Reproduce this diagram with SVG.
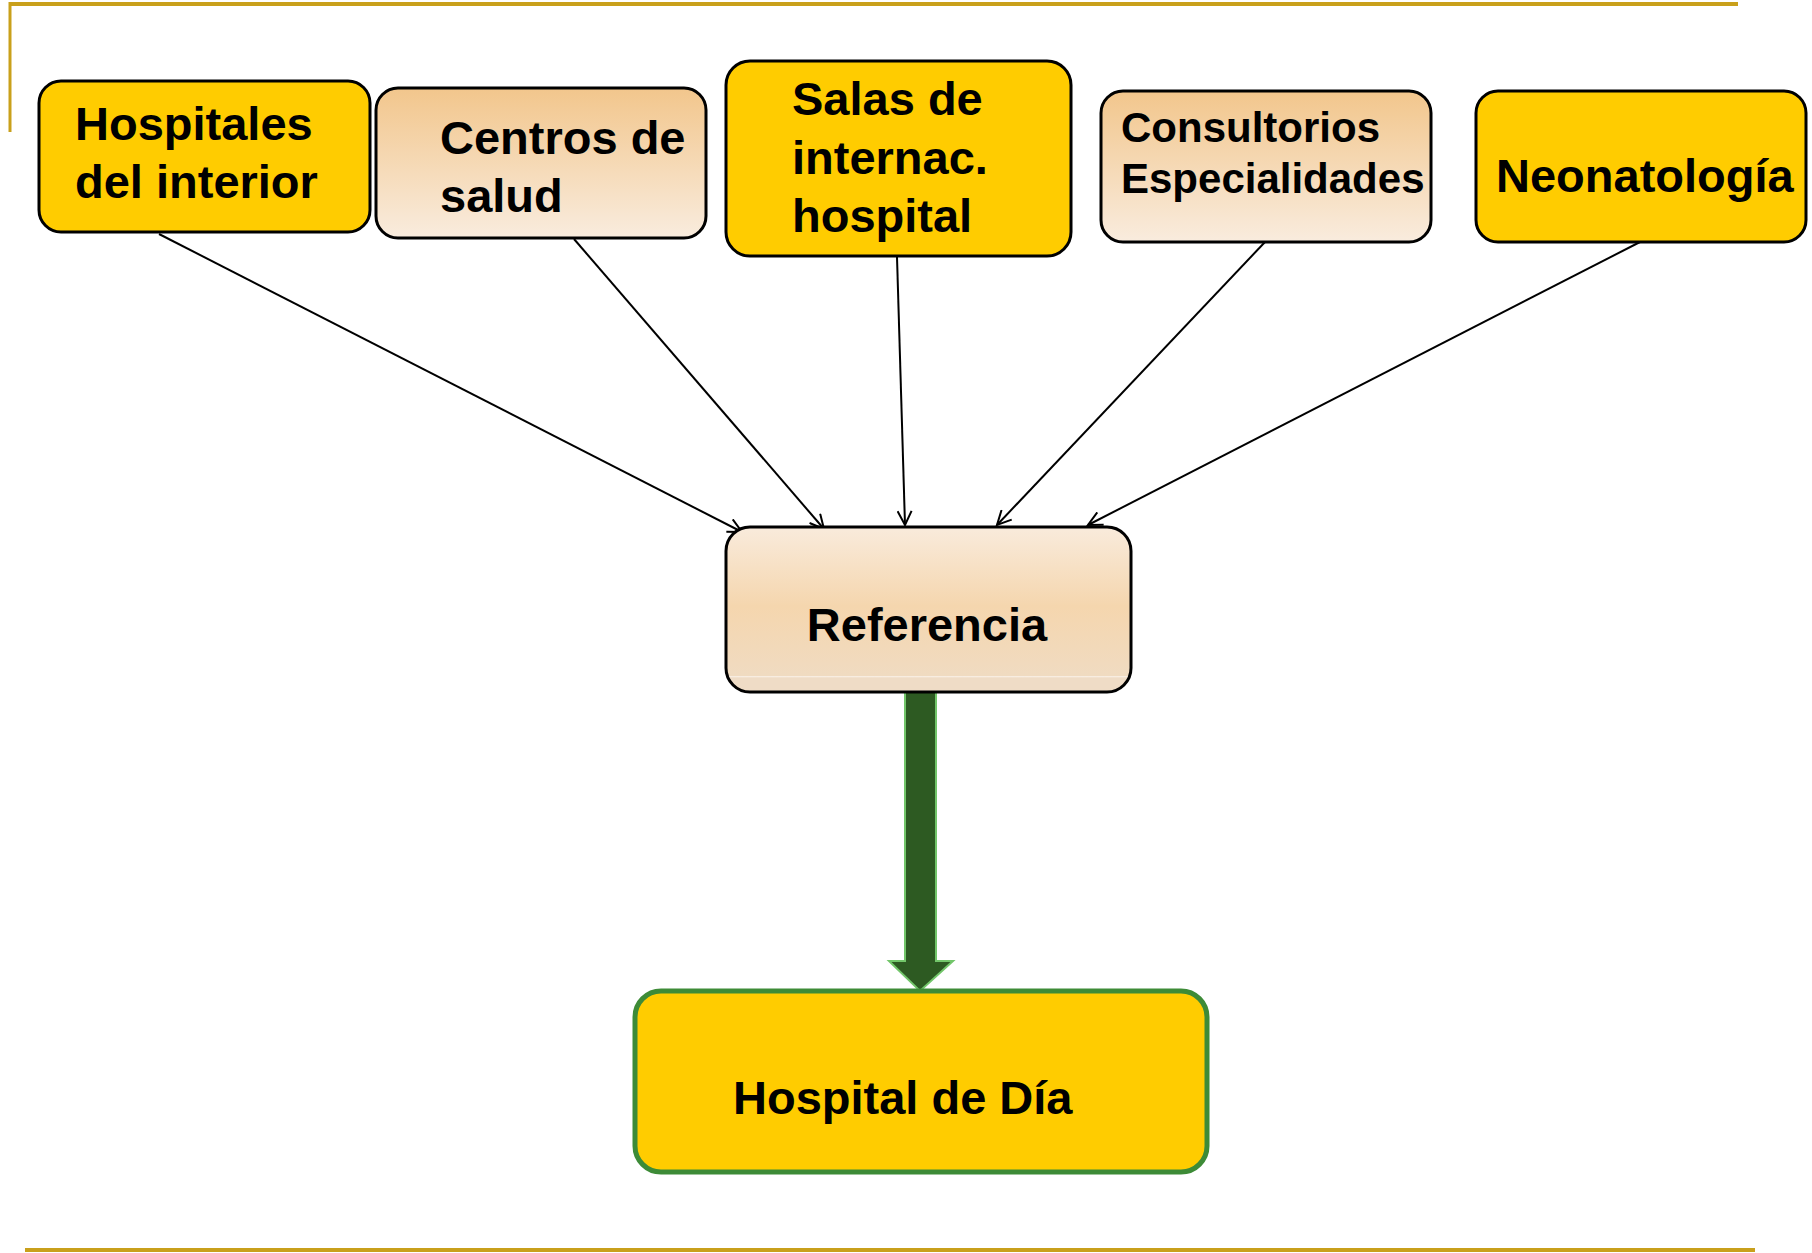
<svg xmlns="http://www.w3.org/2000/svg" width="1812" height="1253" viewBox="0 0 1812 1253">
<style>
.box{stroke:#000;stroke-width:3}
.yel{fill:#ffcc00}
.t{font-family:"Liberation Sans",Arial,sans-serif;font-weight:bold;font-size:47px;fill:#000}
.conn{stroke:#000;stroke-width:2;fill:none}
</style>
<defs>
<linearGradient id="peach" x1="0" y1="0" x2="0" y2="1">
<stop offset="0" stop-color="#f2c68c"/>
<stop offset="1" stop-color="#f9ecde"/>
</linearGradient>
<linearGradient id="ref" x1="0" y1="0" x2="0" y2="1">
<stop offset="0" stop-color="#f9ebdc"/>
<stop offset="0.48" stop-color="#f5d6ae"/>
<stop offset="0.9" stop-color="#f0dbc1"/>
<stop offset="0.905" stop-color="#f9efe4"/>
<stop offset="0.915" stop-color="#efdcc6"/>
<stop offset="1" stop-color="#efdcc6"/>
</linearGradient>
<marker id="arr" markerUnits="userSpaceOnUse" viewBox="0 0 18 16" refX="16" refY="8" markerWidth="18" markerHeight="16" orient="auto">
<path d="M2,1 L16,8 L2,15" fill="none" stroke="#000" stroke-width="2"/>
</marker>
</defs>
<g id="frame">
<line x1="9" y1="4" x2="1738" y2="4" stroke="#c9a01b" stroke-width="4"/>
<line x1="10" y1="2" x2="10" y2="132" stroke="#c9a01b" stroke-width="3"/>
<line x1="25" y1="1250" x2="1755" y2="1250" stroke="#c9a01b" stroke-width="4"/>
</g>
<g id="connectors">
<line class="conn" x1="159" y1="234" x2="742" y2="532" marker-end="url(#arr)"/>
<line class="conn" x1="574" y1="239" x2="824" y2="529" marker-end="url(#arr)"/>
<line class="conn" x1="897" y1="257" x2="905" y2="525" marker-end="url(#arr)"/>
<line class="conn" x1="1265" y1="242" x2="997" y2="525" marker-end="url(#arr)"/>
<line class="conn" x1="1640" y1="242" x2="1088" y2="525" marker-end="url(#arr)"/>
<polygon points="905,692 936,692 936,961 953,961 920,991 889,961 905,961" fill="#2d5a22" stroke="#72c66a" stroke-width="2"/>
</g>
<g id="n1">
<rect class="box yel" x="39" y="81" width="331" height="151" rx="22"/>
<text class="t" x="75" y="140">Hospitales</text>
<text class="t" x="75" y="198">del interior</text>
</g>
<g id="n2">
<rect class="box" fill="url(#peach)" x="376" y="88" width="330" height="150" rx="22"/>
<text class="t" x="440" y="154">Centros de</text>
<text class="t" x="440" y="212">salud</text>
</g>
<g id="n3">
<rect class="box yel" x="726" y="61" width="345" height="195" rx="24"/>
<text class="t" x="792" y="115">Salas de</text>
<text class="t" x="792" y="174">internac.</text>
<text class="t" x="792" y="232">hospital</text>
</g>
<g id="n4">
<rect class="box" fill="url(#peach)" x="1101" y="91" width="330" height="151" rx="22"/>
<text class="t" x="1121" y="142" style="font-size:42px">Consultorios</text>
<text class="t" x="1121" y="193" style="font-size:42px">Especialidades</text>
</g>
<g id="n5">
<rect class="box yel" x="1476" y="91" width="330" height="151" rx="22"/>
<text class="t" x="1496" y="192">Neonatología</text>
</g>
<g id="n6">
<rect class="box" fill="url(#ref)" x="726" y="527" width="405" height="165" rx="24"/>
<text class="t" x="927" y="641" text-anchor="middle">Referencia</text>
</g>
<g id="n7">
<rect class="yel" x="635" y="991" width="572" height="181" rx="26" stroke="#3d8b37" stroke-width="5"/>
<text class="t" x="733" y="1114">Hospital de Día</text>
</g>
</svg>
